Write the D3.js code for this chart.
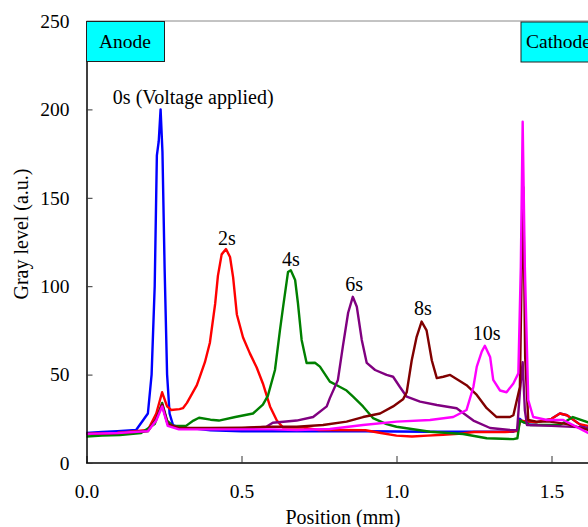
<!DOCTYPE html>
<html>
<head>
<meta charset="utf-8">
<script src="https://cdn.jsdelivr.net/npm/d3@7"></script>
<style>
  body { margin: 0; background: #fff; }
  svg text { font-family: "Liberation Serif", "DejaVu Serif", serif; }
</style>
</head>
<body>
<div id="chart"></div>
<script>
// Data: position (mm) and gray level (a.u.)
var blueX = [0, 0.05, 0.1, 0.16, 0.198, 0.21, 0.22, 0.227, 0.233, 0.239, 0.245, 0.252, 0.26, 0.268, 0.279, 0.3, 0.35, 0.4, 0.5, 0.6, 0.7, 0.8, 0.9, 1.0, 1.1, 1.2, 1.3, 1.377, 1.39, 1.398, 1.41, 1.45, 1.5, 1.527, 1.55, 1.59, 1.618, 1.65];
var blueY = [17, 17.5, 18, 18.7, 28, 50, 100, 174, 182, 200, 176, 110, 50, 28, 21.5, 20, 19.5, 18.5, 18, 18, 18, 18, 18, 17.8, 17.7, 17.7, 17.7, 17.7, 19, 25, 23, 23, 25, 28, 27, 22, 19, 18];

var redX = [0, 0.1, 0.198, 0.225, 0.244, 0.26, 0.273, 0.3, 0.311, 0.324, 0.356, 0.366, 0.382, 0.398, 0.415, 0.424, 0.436, 0.45, 0.463, 0.473, 0.485, 0.505, 0.527, 0.549, 0.569, 0.592, 0.614, 0.634, 0.66, 0.7, 0.75, 0.8, 0.9, 0.95, 1.0, 1.05, 1.1, 1.15, 1.2, 1.25, 1.3, 1.35, 1.39, 1.4, 1.45, 1.5, 1.527, 1.55, 1.59, 1.618, 1.65];
var redY = [16.5, 17, 18.7, 28, 40, 32, 30, 30.5, 31, 34, 44, 49, 57, 68, 90, 106, 118, 121, 116.5, 105, 84, 71, 62, 54, 45, 32, 24, 20, 20, 20, 18.7, 18.7, 18.5, 17, 15.5, 15, 15.5, 16, 16.5, 17.5, 17.5, 17.5, 18, 24, 23, 25, 28, 27, 22, 21, 20];

var greenX = [0, 0.05, 0.108, 0.176, 0.22, 0.244, 0.26, 0.279, 0.321, 0.345, 0.363, 0.4, 0.427, 0.48, 0.537, 0.569, 0.585, 0.608, 0.624, 0.634, 0.65, 0.659, 0.673, 0.682, 0.694, 0.71, 0.737, 0.753, 0.785, 0.818, 0.839, 0.86, 0.892, 0.924, 0.968, 1.0, 1.108, 1.215, 1.291, 1.377, 1.39, 1.398, 1.431, 1.527, 1.569, 1.618, 1.65];
var greenY = [15, 15.5, 15.8, 17, 22, 34, 24, 21, 21, 24, 25.6, 24.5, 24, 26, 28, 33, 38, 52.6, 75, 88, 108, 109, 103.5, 90.5, 69.6, 56.6, 56.7, 54.5, 46, 43, 41, 37.5, 32, 25.4, 22, 20.5, 17.7, 16.4, 14, 13.5, 14, 24, 21.5, 21.5, 26, 23, 22];

var purpleX = [0, 0.1, 0.198, 0.225, 0.244, 0.262, 0.298, 0.4, 0.5, 0.58, 0.601, 0.678, 0.731, 0.775, 0.785, 0.811, 0.827, 0.844, 0.859, 0.872, 0.888, 0.904, 0.931, 0.968, 0.989, 1.011, 1.033, 1.076, 1.13, 1.194, 1.248, 1.302, 1.366, 1.389, 1.398, 1.407, 1.414, 1.421, 1.5, 1.618, 1.65];
var purpleY = [16.5, 17, 18, 25, 33, 22, 19.8, 19.5, 19.5, 20.5, 22.8, 24, 26, 32, 36.7, 47, 66, 85, 94, 88.4, 69.6, 56.6, 52.6, 49.8, 48.8, 43, 37.5, 34.7, 32.8, 31, 24, 19.8, 18.7, 18.5, 40, 57, 30, 21.5, 21, 20, 19.5];

var maroonX = [0, 0.1, 0.198, 0.225, 0.244, 0.262, 0.298, 0.4, 0.5, 0.6, 0.678, 0.763, 0.839, 0.892, 0.947, 0.989, 1.021, 1.033, 1.049, 1.065, 1.081, 1.097, 1.114, 1.13, 1.151, 1.173, 1.199, 1.226, 1.259, 1.291, 1.323, 1.366, 1.377, 1.398, 1.403, 1.409, 1.415, 1.425, 1.452, 1.495, 1.55, 1.618, 1.65];
var maroonY = [16.5, 17, 18, 25, 33, 22, 19.8, 19.8, 20, 20.5, 20.5, 21.5, 23.4, 26, 28, 32, 36, 40, 58, 71.4, 80, 75, 58, 48, 48.8, 49.8, 47, 44, 38.5, 31, 26, 26, 27, 43, 100, 156, 60, 24.3, 23.4, 23.4, 22, 18.7, 18];

var magentaX = [0, 0.1, 0.198, 0.225, 0.244, 0.262, 0.298, 0.4, 0.5, 0.6, 0.678, 0.785, 0.892, 1.001, 1.108, 1.183, 1.226, 1.248, 1.259, 1.275, 1.285, 1.302, 1.312, 1.334, 1.355, 1.377, 1.393, 1.401, 1.407, 1.414, 1.425, 1.441, 1.485, 1.538, 1.618, 1.65];
var magentaY = [16.5, 17, 18, 24, 32, 21, 19, 19, 19, 19, 18.7, 19.2, 21.5, 23.4, 24.3, 26, 30, 43, 54.5, 63, 66.3, 60, 47, 41, 40, 45, 50.7, 111, 193, 111, 35.6, 26, 24.3, 24.3, 17, 16.5];

var seriesColors = ["#0000ff", "#ff0000", "#008000", "#800080", "#800000", "#ff00ff"];

var xTicks = [0, 0.5, 1.0, 1.5];
var yTicks = [0, 50, 100, 150, 200, 250];

// peak labels: text, position, gray level (baseline)
var labelText = ["0s (Voltage applied)", "2s", "4s", "6s", "8s", "10s"];
var labelX = [0.085, 0.453, 0.659, 0.863, 1.085, 1.291];
var labelY = [203, 123.3, 111.4, 97.3, 83.7, 69.6];

var width = 588, height = 527;
var margin = {top: 21, left: 86.5, bottom: 64};
var fs = 19.5;

var svg = d3.select("#chart").append("svg")
  .attr("width", width)
  .attr("height", height);

// scales (plot runs past the right edge of the window)
var x = d3.scaleLinear().domain([0, 1.7]).range([margin.left, margin.left + 1.7 * 310]);
var y = d3.scaleLinear().domain([0, 250]).range([height - margin.bottom, margin.top]);

// top border
svg.append("line")
  .attr("x1", margin.left).attr("x2", width)
  .attr("y1", y(250)).attr("y2", y(250))
  .attr("stroke", "#888").attr("stroke-width", 1);

// lines
var series = [
  [blueX, blueY], [redX, redY], [greenX, greenY],
  [purpleX, purpleY], [maroonX, maroonY], [magentaX, magentaY]
];
var line = d3.line()
  .x(d => x(d[0]))
  .y(d => y(d[1]));

series.forEach((s, i) => {
  var pts = s[0].map((v, j) => [v, s[1][j]]);
  svg.append("path")
    .attr("d", line(pts))
    .attr("fill", "none")
    .attr("stroke", seriesColors[i])
    .attr("stroke-width", 2.4)
    .attr("stroke-linejoin", "round");
});

// axes
var xAxis = svg.append("g")
  .attr("transform", "translate(0," + y(0) + ")")
  .call(d3.axisBottom(x).tickValues(xTicks).tickSizeInner(-7).tickSizeOuter(0).tickPadding(21).tickFormat(d3.format(".1f")));
var yAxis = svg.append("g")
  .attr("transform", "translate(" + margin.left + ",0)")
  .call(d3.axisLeft(y).tickValues(yTicks).tickSizeInner(-6).tickSizeOuter(0).tickPadding(17));

[xAxis, yAxis].forEach(a => {
  a.attr("font-family", null);
  a.select(".domain").attr("stroke", "#000").attr("stroke-width", 1.5);
  a.selectAll(".tick line").attr("stroke", "#333");
  a.selectAll("text")
    .attr("font-size", fs)
    .attr("fill", "#000");
});
xAxis.select(".domain").attr("d", "M" + margin.left + ",0H" + width);

// axis titles
svg.append("text")
  .attr("x", 343).attr("y", 524)
  .attr("text-anchor", "middle")
  .attr("font-size", 20)
  .text("Position (mm)");

svg.append("text")
  .attr("transform", "translate(28," + 234 + ") rotate(-90)")
  .attr("text-anchor", "middle")
  .attr("font-size", 20)
  .text("Gray level (a.u.)");

// electrode boxes
svg.append("rect")
  .attr("x", margin.left).attr("y", 21.5)
  .attr("width", 78).attr("height", 40)
  .attr("fill", "#00ffff").attr("stroke", "#222").attr("stroke-width", 1);
svg.append("text")
  .attr("x", 99).attr("y", 48)
  .attr("font-size", fs)
  .text("Anode");

svg.append("rect")
  .attr("x", 521).attr("y", 22)
  .attr("width", 90).attr("height", 40)
  .attr("fill", "#00ffff").attr("stroke", "#222").attr("stroke-width", 1);
svg.append("text")
  .attr("x", 526).attr("y", 48)
  .attr("font-size", fs)
  .text("Cathode");

// peak labels
labelText.forEach((t, i) => {
  svg.append("text")
    .attr("x", x(labelX[i]))
    .attr("y", y(labelY[i]))
    .attr("text-anchor", i === 0 ? "start" : "middle")
    .attr("font-size", 20)
    .text(t);
});
</script>
</body>
</html>
